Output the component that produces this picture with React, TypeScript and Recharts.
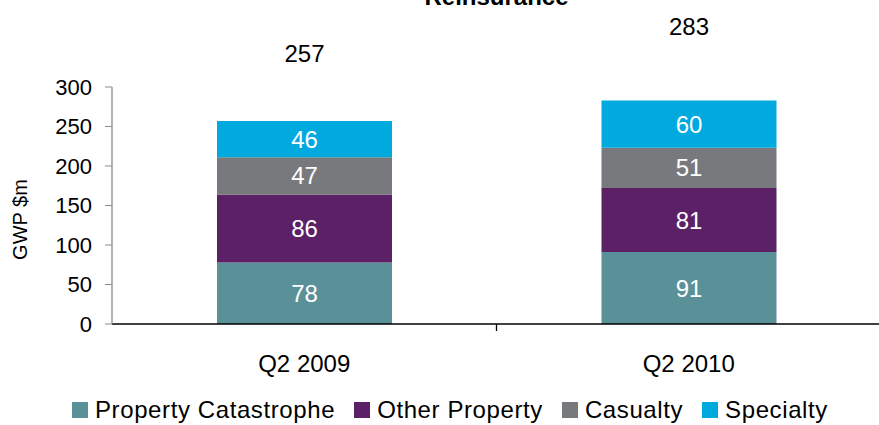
import React from "react";
import { Bar, BarChart, LabelList, XAxis, YAxis, Label } from "recharts";

const categories = ["Q2 2009", "Q2 2010"];
const propertyCatastrophe = [78, 91];
const otherProperty = [86, 81];
const casualty = [47, 51];
const specialty = [46, 60];
const totals = [257, 283];
const yTicks = [0, 50, 100, 150, 200, 250, 300];

const series = [
  { key: "propertyCatastrophe", name: "Property Catastrophe", color: "#5A9199" },
  { key: "otherProperty", name: "Other Property", color: "#5B2066" },
  { key: "casualty", name: "Casualty", color: "#78797D" },
  { key: "specialty", name: "Specialty", color: "#00AADF" },
];

const data = categories.map((category, i) => ({
  category,
  propertyCatastrophe: propertyCatastrophe[i],
  otherProperty: otherProperty[i],
  casualty: casualty[i],
  specialty: specialty[i],
}));

const FONT = "'Liberation Sans', Arial, sans-serif";

function CategoryTick(props: any) {
  const { x, y, payload, index } = props;
  const half = payload?.offset ?? 192;
  const axisY = y - 31;
  return (
    <g>
      <text x={x} y={y} dy="0.71em" textAnchor="middle" fontSize={24} fill="#000" fontFamily={FONT}>
        {payload.value}
      </text>
      {index < categories.length - 1 && (
        <line x1={x + half} x2={x + half} y1={axisY} y2={axisY + 7} stroke="#000" strokeWidth={1.3} />
      )}
    </g>
  );
}

// totals sit above each stack, roughly a third of the stack height higher
function TotalLabel(props: any) {
  const { x, y, width, height, value, index } = props;
  const scale = height / value;
  const cy = y - 0.33 * totals[index] * scale;
  return (
    <text x={x + width / 2} y={cy} textAnchor="middle" dominantBaseline="central" fontSize={24} fill="#000" fontFamily={FONT}>
      {totals[index]}
    </text>
  );
}

function AxisTitle(props: any) {
  const vb = props.viewBox;
  const cx = vb.x + 20;
  const cy = vb.y + vb.height / 2 + 14;
  return (
    <text x={cx} y={cy} transform={`rotate(-90, ${cx}, ${cy})`} textAnchor="middle" dominantBaseline="central" fontSize={20} fill="#000" fontFamily={FONT}>
      GWP $m
    </text>
  );
}

export default function App() {
  return (
    <div style={{ position: "absolute", left: 0, top: 0, width: 879, height: 425, overflow: "hidden", background: "#fff", fontFamily: FONT }}>
      <div style={{ position: "absolute", left: 0, width: 993, top: -15, lineHeight: "24px", textAlign: "center", fontSize: 24, fontWeight: "bold" }}>
        Reinsurance
      </div>
      <BarChart width={881} height={425} data={data} margin={{ top: 87, right: 0, bottom: 70, left: 0 }}>
        <XAxis
          dataKey="category"
          height={31}
          axisLine={{ stroke: "#000", strokeWidth: 1.3 }}
          tickLine={false}
          tickSize={7}
          tickMargin={24}
          tick={<CategoryTick />}
          interval={0}
        />
        <YAxis
          width={112}
          domain={[0, 300]}
          ticks={yTicks}
          interval={0}
          axisLine={{ stroke: "#8C8C8C", strokeWidth: 1.3 }}
          tickLine={{ stroke: "#8C8C8C" }}
          tickSize={7}
          tickMargin={13}
          tick={{ fontSize: 22, fill: "#000", fontFamily: FONT }}
        >
          <Label content={<AxisTitle />} />
        </YAxis>
        {series.map((s, i) => (
          <Bar key={s.key} dataKey={s.key} name={s.name} stackId="a" fill={s.color} barSize={175} isAnimationActive={false}>
            <LabelList dataKey={s.key} position="center" fill="#fff" fontSize={24} fontFamily={FONT} />
            {i === series.length - 1 && <LabelList dataKey={s.key} content={<TotalLabel />} />}
          </Bar>
        ))}
      </BarChart>
      <div style={{ position: "absolute", left: 72, top: 398, display: "flex", alignItems: "center", fontSize: 24, lineHeight: "24px", letterSpacing: "0.6px", color: "#000" }}>
        {series.map((s) => (
          <div key={s.key} style={{ display: "flex", alignItems: "center", marginRight: 19 }}>
            <span style={{ display: "inline-block", width: 16, height: 16, background: s.color, marginRight: 7 }} />
            <span>{s.name}</span>
          </div>
        ))}
      </div>
    </div>
  );
}
